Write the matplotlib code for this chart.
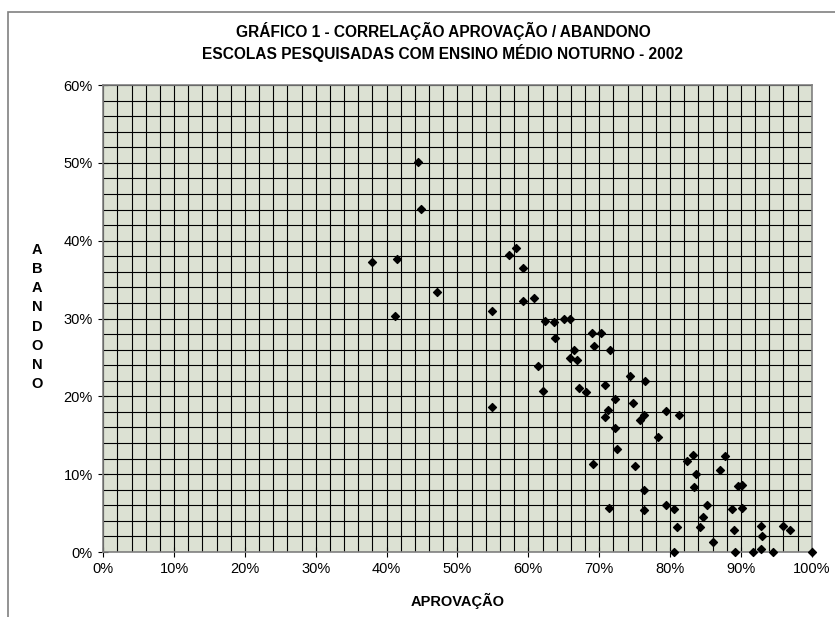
import matplotlib.pyplot as plt
from matplotlib.ticker import MultipleLocator, PercentFormatter
from matplotlib.patches import Rectangle

plt.rcParams['font.family'] = ['Liberation Sans', 'DejaVu Sans']

# ── Data (percent) ───────────────────────────────────────────────────────────
aprovacao = [
    44.4, 44.8, 38.0, 41.5, 47.1, 54.8, 41.2, 57.2, 58.3, 59.3,
    59.2, 60.8, 62.3, 63.6, 65.0, 65.9, 63.7, 69.0, 70.3, 69.2,
    71.5, 66.5, 65.9, 66.8, 61.3, 62.0, 54.8, 74.3, 76.4, 67.2,
    68.1, 70.8, 72.2, 74.8, 71.2, 70.8, 76.3, 75.7, 79.4, 81.2,
    72.2, 78.3, 72.5, 83.2, 87.7, 69.1, 75.0, 82.4, 83.7, 87.0,
    76.3, 83.4, 89.6, 90.1, 71.4, 76.3, 79.4, 80.5, 85.2, 88.7,
    90.1, 84.7, 81.0, 84.3, 89.0, 92.8, 95.9, 97.0, 93.0, 86.1,
    80.5, 89.2, 91.7, 92.8, 94.6, 100.0,
]
abandono = [
    50.1, 44.1, 37.3, 37.6, 33.4, 31.0, 30.3, 38.2, 39.0, 36.5,
    32.2, 32.7, 29.7, 29.5, 30.0, 30.0, 27.5, 28.2, 28.2, 26.5,
    26.0, 25.9, 24.9, 24.7, 23.9, 20.7, 18.6, 22.6, 22.0, 21.1,
    20.6, 21.5, 19.6, 19.1, 18.2, 17.4, 17.6, 16.9, 18.1, 17.6,
    15.9, 14.8, 13.3, 12.5, 12.3, 11.3, 11.1, 11.7, 10.0, 10.5,
    8.0, 8.3, 8.5, 8.6, 5.7, 5.4, 6.1, 5.5, 6.1, 5.5,
    5.7, 4.5, 3.2, 3.2, 2.8, 3.3, 3.3, 2.8, 2.0, 1.3,
    0.0, 0.0, 0.0, 0.35, 0.0, 0.0,
]

# ── Figure ───────────────────────────────────────────────────────────────────
fig = plt.figure(figsize=(8.35, 6.17), dpi=100)
ax = fig.add_axes([0.1237, 0.1053, 0.8484, 0.7569])

# outer chart-area frame (only left/top visible in the crop)
fig.patches.append(Rectangle((8 / 835, -0.1), 1.2, 1 - 12 / 617 + 0.1,
                             transform=fig.transFigure, fill=False,
                             edgecolor="#808080", lw=1.2))

ax.set_facecolor("#DCE1D3")
ax.scatter(aprovacao, abandono, marker="D", s=16, color="black",
           zorder=3, clip_on=False)

ax.set_xlim(0, 100)
ax.set_ylim(0, 60)
ax.xaxis.set_major_locator(MultipleLocator(10))
ax.yaxis.set_major_locator(MultipleLocator(10))
ax.xaxis.set_minor_locator(MultipleLocator(2))
ax.yaxis.set_minor_locator(MultipleLocator(2))
ax.xaxis.set_major_formatter(PercentFormatter(decimals=0))
ax.yaxis.set_major_formatter(PercentFormatter(decimals=0))
ax.grid(which="both", color="black", lw=0.8)
ax.set_axisbelow(True)
ax.tick_params(which="major", direction="inout", length=7, width=0.8,
               labelsize=10.5, pad=4, color="black")
ax.tick_params(which="minor", length=0)
for s in ax.spines.values():
    s.set_color("#808080")
    s.set_linewidth(1.2)

ax.set_xlabel("APROVAÇÃO", fontsize=10.5, fontweight="bold", labelpad=12)
fig.text(37 / 835, 1 - 317 / 617, "\n".join("ABANDONO"), ha="center",
         va="center", fontsize=10.5, fontweight="bold", linespacing=1.48)

fig.text(443 / 835, 1 - 42 / 617,
         "GRÁFICO 1 - CORRELAÇÃO APROVAÇÃO / ABANDONO\n"
         "ESCOLAS PESQUISADAS COM ENSINO MÉDIO NOTURNO - 2002",
         ha="center", va="center", fontsize=11.2, fontweight="bold",
         linespacing=1.22)

plt.savefig("out.png", dpi=100)
